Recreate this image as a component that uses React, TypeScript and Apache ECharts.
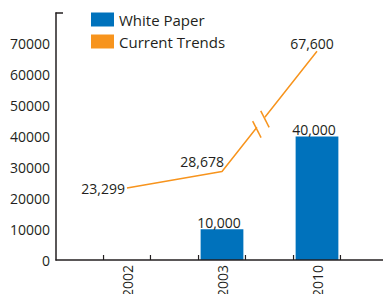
import React, { useEffect, useRef } from "react";
import * as echarts from "echarts";

const categories = ["2002", "2003", "2010"];
const whitePaper: (number | null)[] = [null, 10000, 40000];
const currentTrends = [23299, 28678, 67600];
const yMax = 80000;
const yStep = 10000;

const BLUE = "#0072BC";
const ORANGE = "#F7941D";
const DARK = "#231F20";
const FONT = "Open Sans";

const fmt = (v: number) => v.toLocaleString("en-US");

export default function App() {
  const ref = useRef<HTMLDivElement>(null);
  useEffect(() => {
    document.body.style.margin = "0";
    const chart = echarts.init(ref.current!, null, { renderer: "svg" });
    const trendLabels = [
      { position: "left", distance: 2 },
      { position: "top", align: "right", distance: 3, offset: [2, 0] },
      { position: "top", distance: 1, offset: [-5, 0] },
    ];
    chart.setOption({
      animation: false,
      textStyle: { fontFamily: FONT },
      legend: {
        orient: "vertical",
        left: 91,
        top: 12,
        padding: 0,
        itemWidth: 23,
        itemHeight: 14,
        itemGap: 7,
        textStyle: { fontFamily: FONT, fontSize: 15, color: DARK },
        data: [
          { name: "White Paper", icon: "rect" },
          { name: "Current Trends", icon: "rect" },
        ],
      },
      grid: {
        left: 79.5,
        right: 18.5,
        top: 13,
        bottom: 34,
        containLabel: false,
        outerBoundsMode: "none",
      },
      xAxis: {
        type: "category",
        data: categories,
        boundaryGap: true,
        axisLine: { show: false },
        axisTick: { show: false },
        axisLabel: {
          rotate: 90,
          margin: 5,
          fontFamily: FONT,
          fontSize: 14,
          color: DARK,
        },
      },
      yAxis: {
        type: "value",
        min: 0,
        max: yMax,
        interval: yStep,
        offset: 23.5,
        splitLine: { show: false },
        axisTick: { show: false },
        axisLine: { show: true, lineStyle: { color: DARK, width: 1.5 } },
        axisLabel: {
          margin: 6,
          fontFamily: FONT,
          fontSize: 14,
          color: DARK,
          formatter: (v: number) => (v >= yMax ? "" : String(v)),
        },
      },
      graphic: [
        {
          type: "line",
          shape: { x1: 55.5, y1: 260, x2: 383, y2: 260 },
          style: { stroke: DARK, lineWidth: 1.5 },
          z: 10,
        },
        {
          type: "line",
          shape: { x1: 55.5, y1: 13, x2: 63, y2: 13 },
          style: { stroke: DARK, lineWidth: 1.5 },
        },
      ],
      series: [
        {
          name: "White Paper",
          type: "bar",
          data: whitePaper,
          barWidth: "45%",
          itemStyle: { color: BLUE },
          label: {
            show: true,
            position: "top",
            distance: 0,
            offset: [-3, 0],
            fontFamily: FONT,
            fontSize: 14,
            color: DARK,
            formatter: (p: any) => fmt(p.value),
          },
        },
        {
          name: "Current Trends",
          type: "line",
          data: currentTrends.map((v, i) => ({ value: v, label: trendLabels[i] })),
          symbol: "circle",
          symbolSize: 0,
          itemStyle: { color: ORANGE },
          lineStyle: { color: ORANGE, width: 1.5 },
          label: {
            show: true,
            fontFamily: FONT,
            fontSize: 14,
            color: DARK,
            formatter: (p: any) => fmt(p.value),
          },
          z: 3,
        },
        {
          type: "custom",
          coordinateSystem: "cartesian2d",
          clip: false,
          silent: true,
          z: 5,
          data: categories.map((_, i) => [i, 0]),
          renderItem: (params: any, api: any) => {
            const i = params.dataIndex;
            const p = api.coord([i, 0]);
            const w = api.size([1, 0])[0];
            const half = w * 0.247;
            const children: any[] = [
              {
                type: "line",
                shape: { x1: p[0] - half, y1: p[1], x2: p[0] - half, y2: p[1] - 5 },
                style: { stroke: DARK, lineWidth: 1.2 },
              },
              {
                type: "line",
                shape: { x1: p[0] + half, y1: p[1], x2: p[0] + half, y2: p[1] - 5 },
                style: { stroke: DARK, lineWidth: 1.2 },
              },
            ];
            if (i === 1) {
              const a = api.coord([1, currentTrends[1]]);
              const b = api.coord([2, currentTrends[2]]);
              const dx = b[0] - a[0];
              const dy = b[1] - a[1];
              const pt = (t: number) => [a[0] + dx * t, a[1] + dy * t];
              const g1 = pt(0.367);
              const g2 = pt(0.452);
              children.push({
                type: "line",
                shape: { x1: g1[0], y1: g1[1], x2: g2[0], y2: g2[1] },
                style: { stroke: "#ffffff", lineWidth: 4 },
              });
              const mx = 4.2;
              const my = 8.3;
              [g1, g2].forEach((g) => {
                children.push({
                  type: "line",
                  shape: { x1: g[0] - mx, y1: g[1] - my + 2, x2: g[0] + mx, y2: g[1] + my + 2 },
                  style: { stroke: ORANGE, lineWidth: 1.5 },
                });
              });
            }
            return { type: "group", children };
          },
        },
      ],
    });
    return () => chart.dispose();
  }, []);
  return <div ref={ref} style={{ width: 383, height: 294 }} />;
}
